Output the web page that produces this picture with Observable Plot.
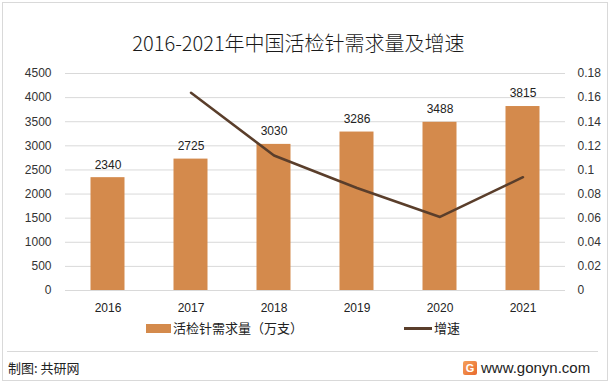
<!DOCTYPE html>
<html><head><meta charset="utf-8">
<script src="https://cdn.jsdelivr.net/npm/d3@7"></script>
<script src="https://cdn.jsdelivr.net/npm/@observablehq/plot@0.6"></script>
<style>
body{margin:0;background:#fff;}
#wrap{position:relative;width:611px;height:386px;overflow:hidden;font-family:"Noto Sans CJK SC","Noto Sans",sans-serif;color:#222;}
#frame{position:absolute;left:2px;top:2px;width:606px;height:379px;border:1px solid #d9d9d9;box-sizing:border-box;}
#title{position:absolute;left:0;width:597px;top:29px;text-align:center;font-size:20px;line-height:28px;color:#1a1a1a;font-weight:300;}
#chart{position:absolute;left:0;top:60px;}
#legend{position:absolute;top:318px;left:0;width:611px;height:20px;font-size:13px;line-height:20px;color:#222;}
.sw{position:absolute;}
#sep{position:absolute;left:7px;top:351px;width:591px;height:1px;background:#d9d9d9;}
#src{position:absolute;left:8px;top:358px;font-size:13px;line-height:20px;color:#222;}
#site{position:absolute;left:481px;top:357px;font-size:15px;line-height:22px;color:#222;font-family:"Liberation Sans",sans-serif;}
#logo{position:absolute;left:463px;top:361px;width:14px;height:14px;background:linear-gradient(135deg,#f5a05a,#e8692d);border-radius:2px;color:#fff;font:bold 11px/14px "Liberation Sans",sans-serif;text-align:center;}
</style></head>
<body>
<div id="wrap">
  <div id="frame"></div>
  <div id="title">2016-2021年中国活检针需求量及增速</div>
  <div id="chart"></div>
  <div id="legend">
    <div class="sw" style="left:146px;top:6px;width:25px;height:9px;background:#d48a4c;"></div>
    <div class="sw" style="left:173px;top:0;">活检针需求量（万支）</div>
    <div class="sw" style="left:404px;top:9px;width:28px;height:3px;background:#5a3e2b;"></div>
    <div class="sw" style="left:434px;top:0;">增速</div>
  </div>
  <div id="sep"></div>
  <div id="src">制图: 共研网</div>
  <div id="logo">G</div>
  <div id="site">www.gonyn.com</div>
</div>
<script>
const years = ["2016","2017","2018","2019","2020","2021"];
const demand = [2340, 2725, 3030, 3286, 3488, 3815];
const growthYears = ["2017","2018","2019","2020","2021"];
const growth = [0.164, 0.112, 0.085, 0.061, 0.094];
const leftTicks = [0,500,1000,1500,2000,2500,3000,3500,4000,4500];
const rightMax = 0.18, leftMax = 4500;
const k = leftMax / rightMax;

const bars = years.map((y, i) => ({year: y, value: demand[i]}));
const line = growthYears.map((y, i) => ({year: y, value: growth[i] * k}));

const chart = Plot.plot({
  width: 611, height: 260,
  marginLeft: 65, marginRight: 46, marginTop: 13, marginBottom: 30,
  style: {fontFamily: '"Liberation Sans", sans-serif', fontSize: "12px", color: "#333", background: "transparent"},
  x: {domain: years, padding: 0},
  y: {domain: [0, leftMax]},
  marks: [
    Plot.gridY(leftTicks, {stroke: "#d9d9d9", strokeOpacity: 1}),
    Plot.barY(bars, {x: "year", y: "value", fill: "#d48a4c", insetLeft: 24.5, insetRight: 24.5}),
    Plot.text(bars, {x: "year", y: "value", text: d => String(d.value), dy: -13, fill: "#222", fontSize: 12}),
    Plot.line(line, {x: "year", y: "value", stroke: "#5a3e2b", strokeWidth: 2.5}),
    Plot.axisX({tickSize: 0, tickPadding: 13, label: null, fill: "#222"}),
    Plot.axisY(leftTicks, {anchor: "left", tickSize: 0, tickPadding: 14, label: null, fill: "#333",
      tickFormat: d => String(d)}),
    Plot.axisY(leftTicks, {anchor: "right", tickSize: 0, tickPadding: 12, label: null, fill: "#333",
      tickFormat: d => String(+(d / k).toFixed(2))})
  ]
});
document.getElementById("chart").appendChild(chart);
</script>
</body></html>
